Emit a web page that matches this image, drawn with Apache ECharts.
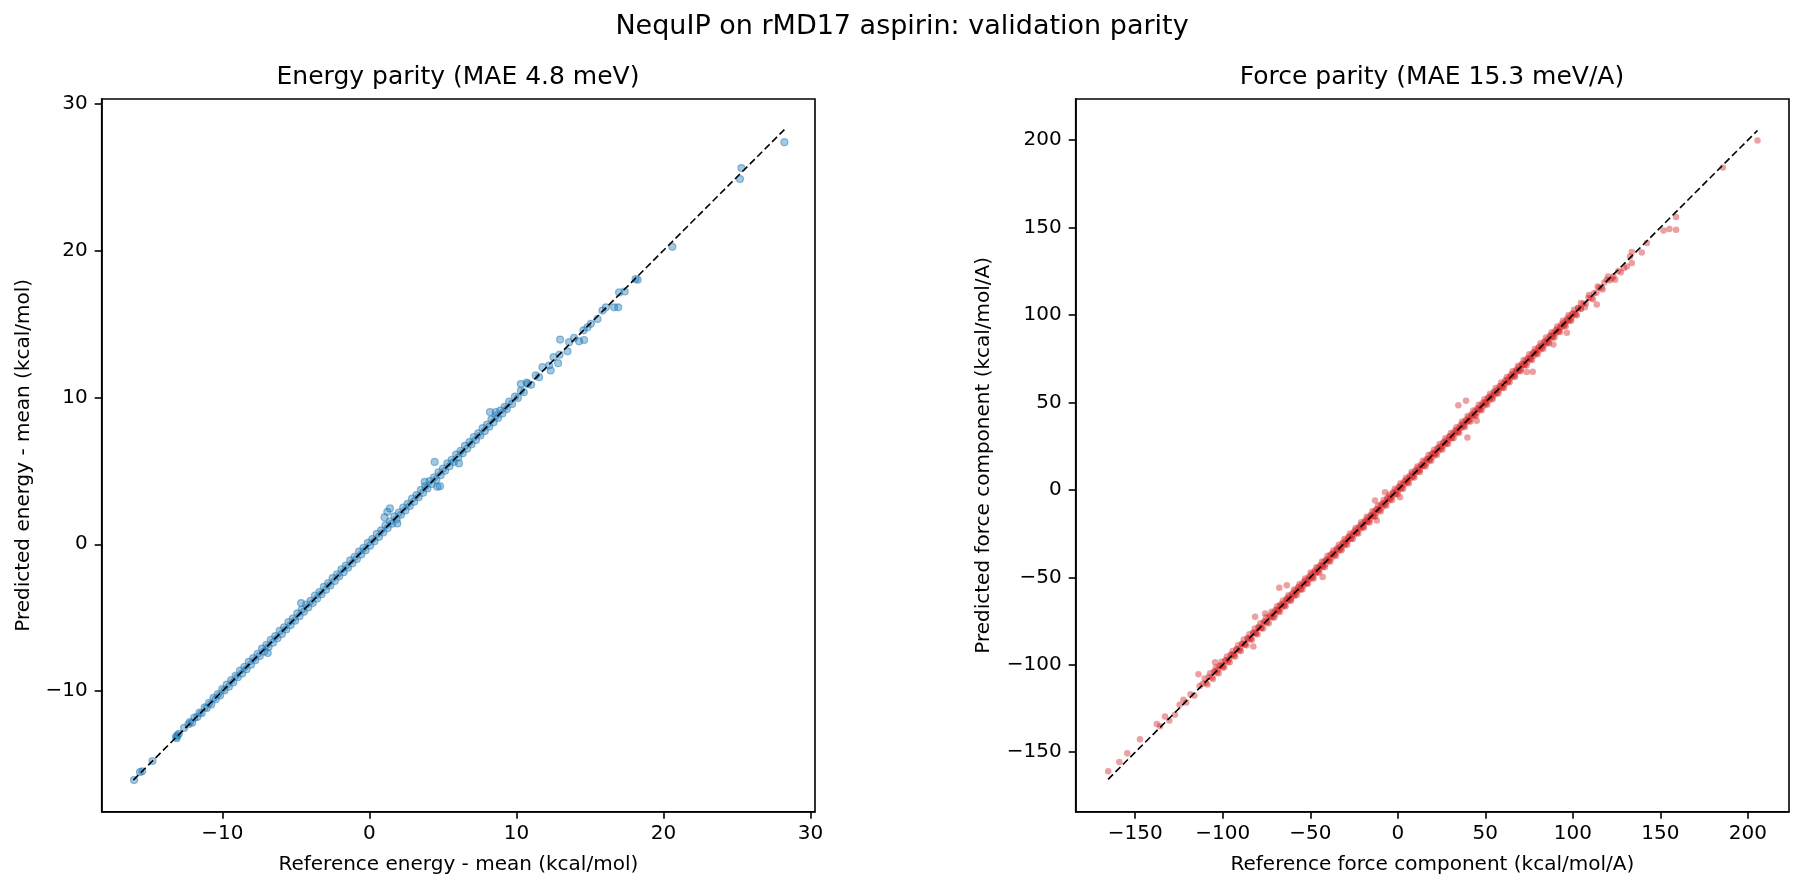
<!DOCTYPE html>
<html lang="en" style="height: 100%">
<head>
  <meta charset="utf-8">
</head>
<body style="height: 100%; margin: 0">
  <div id="container" style="height: 100%"></div>

  <script type="text/javascript" src="https://fastly.jsdelivr.net/npm/echarts@6/dist/echarts.min.js"></script>

  <script type="text/javascript">
    const suptitle = 'NequIP on rMD17 aspirin: validation parity';
    const energyTitle = 'Energy parity (MAE 4.8 meV)';
    const forceTitle = 'Force parity (MAE 15.3 meV/A)';

    const energyTicks = [-10, 0, 10, 20, 30];
    const forceTicks = [-150, -100, -50, 0, 50, 100, 150, 200];

    // y = x reference line ends
    const energyDiag = [[-16.05, -16.05], [28.22, 28.22]];
    const forceDiag = [[-165.5, -165.5], [205.5, 205.5]];

    // [reference, predicted]
    const energyPoints = [
      [-16.0,-16.05],[-15.6,-15.5],[-15.45,-15.45],[-14.75,-14.75],
      [-13.15,-13.1],[-13.05,-13.0],[-13.1,-13.2],[-12.95,-12.9],
      [-12.6,-12.5],[-12.3,-12.25],[-12.2,-12.1],[-12.05,-12.15],
      [-11.9,-11.8],[-11.7,-11.75],[-11.55,-11.45],[-11.4,-11.5],[-11.2,-11.1],[-11.05,-11.15],
      [-10.9,-10.8],[-10.75,-10.9],[-10.6,-10.45],[-10.45,-10.55],[-10.3,-10.2],[-10.15,-10.3],
      [-10.0,-9.85],[-9.85,-9.95],[-9.7,-9.55],[-9.55,-9.7],[-9.4,-9.25],[-9.25,-9.4],[-9.1,-8.95],[-8.95,-9.05],
      [-8.8,-8.6],[-8.65,-8.8],[-8.5,-8.35],[-8.35,-8.5],[-8.2,-8.0],[-8.05,-8.2],[-7.9,-7.75],[-7.75,-7.9],
      [-7.6,-7.45],[-7.45,-7.6],[-7.3,-7.1],[-7.15,-7.3],[-7.0,-6.85],[-6.91,-7.4],[-6.85,-7.0],[-6.7,-6.5],[-6.55,-6.7],
      [-6.4,-6.25],[-6.25,-6.4],[-6.1,-5.9],[-5.95,-6.1],[-5.8,-5.65],[-5.65,-5.8],[-5.5,-5.3],[-5.35,-5.5],
      [-5.2,-5.05],[-5.05,-5.2],[-4.9,-4.7],[-4.75,-4.9],[-4.64,-4.0],[-4.6,-4.45],[-4.45,-4.6],[-4.3,-4.1],[-4.15,-4.3],
      [-4.0,-3.85],[-3.85,-4.0],[-3.7,-3.5],[-3.55,-3.7],[-3.4,-3.25],[-3.25,-3.4],[-3.1,-2.9],[-2.95,-3.1],
      [-2.8,-2.65],[-2.65,-2.8],[-2.5,-2.3],[-2.35,-2.5],[-2.2,-2.05],[-2.05,-2.2],[-1.9,-1.7],[-1.75,-1.9],
      [-1.6,-1.45],[-1.45,-1.6],[-1.3,-1.1],[-1.15,-1.3],[-1.0,-0.85],[-0.85,-1.0],[-0.7,-0.5],[-0.55,-0.7],
      [-0.4,-0.25],[-0.25,-0.4],[-0.1,0.1],[0.05,-0.1],[0.2,0.35],[0.35,0.2],[0.5,0.7],[0.65,0.5],
      [0.8,0.95],[0.95,0.8],[1.03,1.83],[1.22,2.21],[1.4,2.44],[1.1,1.3],[1.25,1.1],[1.4,1.55],[1.55,1.4],
      [1.7,1.9],[1.9,1.42],[1.85,1.7],[2.0,2.15],[2.15,2.0],[2.3,2.5],[2.45,2.3],[2.6,2.75],[2.75,2.6],
      [2.9,3.1],[3.05,2.9],[3.2,3.35],[3.35,3.2],[3.5,3.7],[3.65,3.5],[3.76,4.25],[3.8,3.95],[3.95,3.8],
      [4.1,4.3],[4.25,4.1],[4.44,5.6],[4.4,4.55],[4.62,3.91],[4.8,3.95],[4.55,4.4],[4.7,4.9],[4.85,4.7],
      [5.0,5.15],[5.15,5.0],[5.3,5.5],[5.45,5.3],[5.6,5.75],[5.75,5.6],[5.9,6.1],[6.09,5.5],[6.05,5.9],
      [6.2,6.35],[6.35,6.2],[6.5,6.7],[6.65,6.5],[6.8,6.95],[6.95,6.8],[7.1,7.3],[7.25,7.1],
      [7.4,7.55],[7.55,7.4],[7.7,7.9],[7.85,7.7],[8.0,8.15],[8.15,8.0],[8.3,8.5],[8.2,9.0],[8.6,9.0],
      [8.45,8.3],[8.6,8.75],[8.75,8.6],[8.9,9.1],[9.05,8.9],[9.2,9.35],[9.35,9.2],[9.5,9.7],
      [9.7,9.55],[9.9,10.05],[10.1,9.95],[10.3,10.9],[10.7,11.0],[10.3,10.45],[10.5,10.35],[10.75,10.9],[11.0,10.85],
      [11.31,11.49],[11.54,11.37],[11.77,12.05],[12.22,12.16],[12.33,11.83],[12.52,12.73],[12.83,12.32],[12.93,12.9],
      [12.97,13.93],[13.47,13.13],[13.58,13.75],[13.92,14.04],[14.26,13.81],[14.6,13.9],[14.56,14.56],[14.83,14.76],
      [15.06,15.0],[15.51,15.33],[15.85,15.9],[16.08,16.12],[16.64,16.12],[16.92,16.12],[16.98,17.14],[17.36,17.2],
      [18.1,18.05],[18.24,18.0],[20.6,20.24],[25.2,24.85],[25.3,25.6],[28.22,27.36]
    ];

    const forcePoints = [
      [-165.4,-160.9],[-159.1,-155.6],[-154.5,-150.6],[-147.3,-142.6],[-137.7,-133.9],[-135.8,-135.2],
      [-133.0,-129.5],[-130.5,-131.8],[-127.3,-128.6],[-124.6,-122.8],[-122.5,-120.0],[-120.8,-121.5],
      [-118.4,-116.9],[-116.2,-117.5],[-113.9,-105.4],[-113.2,-112.1],[-111.5,-110.8],[-109.6,-110.2],
      [-107.9,-106.8],[-106.1,-107.3],[-104.4,-98.6],[-104.5,-103.6],[-102.8,-102.9],[-101.2,-100.3],
      [-99.6,-100.5],[-98.1,-97.4],[-96.5,-96.9],[-95.0,-94.2],[-93.4,-93.9],[-91.9,-91.1],[-90.3,-90.8],
      [-88.8,-88.1],[-87.2,-87.9],[-85.7,-84.9],[-84.2,-84.8],[-82.5,-89.6],[-82.6,-81.9],[-81.5,-72.5],
      [-81.1,-81.7],[-79.6,-78.8],[-78.1,-78.9],[-76.6,-75.9],[-75.8,-70.7],[-75.1,-75.6],[-73.6,-72.8],
      [-72.1,-72.9],[-71.0,-70.2],[-70.1,-71.3],[-69.2,-68.5],[-68.3,-69.0],[-67.7,-56.0],[-67.4,-66.1],
      [-66.5,-67.4],[-65.6,-65.0],[-64.7,-65.9],[-63.4,-54.5],[-63.8,-62.6],[-62.9,-63.5],[-62.0,-61.1],
      [-61.1,-62.3],[-60.2,-59.8],[-59.3,-60.6],[-58.4,-57.5],[-57.5,-58.1],[-56.6,-55.4],[-55.7,-56.9],
      [-54.8,-54.2],[-53.9,-54.8],[-53.0,-51.9],[-52.1,-53.3],[-51.2,-50.7],[-50.3,-51.1],[-49.4,-48.3],
      [-48.5,-49.6],[-47.6,-47.1],[-46.7,-47.5],[-45.8,-44.6],[-44.9,-45.7],[-44.0,-43.4],[-43.1,-44.0],
      [-42.9,-49.8],[-42.2,-41.3],[-41.3,-42.5],[-40.4,-39.8],[-39.5,-40.2],[-38.6,-37.4],[-37.7,-38.6],
      [-36.8,-36.1],[-35.9,-36.7],[-35.0,-33.9],[-34.1,-35.0],[-33.2,-32.6],[-32.3,-33.3],[-31.4,-30.5],
      [-30.5,-31.6],[-29.6,-28.9],[-28.7,-29.4],[-27.8,-26.7],[-26.9,-27.9],[-26.0,-25.5],[-25.1,-25.8],
      [-24.2,-23.1],[-23.3,-24.3],[-22.4,-21.8],[-21.5,-22.2],[-20.6,-19.6],[-19.7,-20.8],[-18.8,-18.2],
      [-17.9,-18.5],[-17.0,-16.0],[-16.1,-17.1],[-15.2,-14.7],[-14.3,-15.0],[-13.4,-12.3],[-13.0,-6.1],
      [-12.5,-13.4],[-12.0,-17.5],[-11.6,-11.0],[-10.7,-11.3],[-9.8,-8.8],[-8.9,-9.9],[-8.0,-7.5],
      [-7.3,-1.3],[-7.1,-7.8],[-6.2,-5.2],[-5.3,-6.2],[-4.4,-3.9],[-3.5,-4.1],[-2.6,-1.6],[-1.7,-2.7],
      [-0.8,-0.2],[0.1,-0.6],[1.0,1.9],[1.3,-4.2],[1.9,1.0],[2.8,3.3],[3.7,3.1],[4.6,5.5],[5.5,4.6],
      [6.4,6.9],[7.3,6.6],[8.2,9.1],[9.1,8.2],[10.0,10.6],[10.9,10.2],[11.8,12.7],[12.7,11.7],[13.6,14.1],
      [14.5,13.8],[15.4,16.3],[16.3,15.3],[17.2,17.8],[18.1,17.4],[19.0,19.9],[19.9,18.9],[20.8,21.3],
      [21.7,21.0],[22.6,23.5],[23.5,22.5],[24.4,25.0],[25.3,24.6],[26.2,27.1],[27.1,26.1],[28.0,28.5],
      [28.9,28.2],[29.8,30.6],[30.7,29.7],[31.6,32.2],[32.5,31.8],[33.4,34.3],[34.3,33.3],[34.6,48.4],
      [35.2,35.7],[36.1,35.4],[37.0,37.8],[37.9,36.9],[38.8,39.3],[39.0,50.9],[39.7,39.0],[39.8,30.0],
      [40.6,41.4],[41.5,40.5],[42.4,42.9],[43.3,42.6],[44.2,45.0],[45.1,39.5],[45.1,44.1],[46.0,46.5],
      [46.9,46.2],[47.8,48.6],[48.7,47.7],[49.6,50.1],[50.5,49.8],[51.4,52.2],[52.3,51.3],[53.2,53.7],
      [54.1,53.4],[55.0,55.8],[55.9,54.9],[56.8,57.3],[57.7,57.0],[58.6,59.4],[59.5,58.5],[60.4,60.9],
      [61.3,60.6],[62.2,63.0],[63.1,62.1],[64.0,64.5],[64.9,64.2],[65.8,66.6],[66.7,65.7],[67.6,68.1],
      [68.5,67.8],[69.4,70.2],[70.3,69.3],[71.2,71.7],[72.1,71.4],[73.0,73.8],[73.7,67.4],[73.9,72.9],
      [74.8,75.3],[75.7,75.0],[76.6,77.4],[77.1,67.6],[77.5,76.5],[78.4,78.9],[79.3,78.6],[80.2,81.0],
      [81.1,80.1],[82.0,82.5],[82.9,82.2],[83.8,84.6],[84.7,83.7],[85.6,86.1],[86.5,85.8],[87.4,88.2],
      [88.9,83.2],[88.3,87.3],[89.2,89.7],[90.1,89.4],[91.0,91.8],[91.9,90.9],[92.8,93.3],[93.7,93.0],
      [94.6,95.4],[95.5,94.5],[96.6,89.9],[96.4,96.9],[97.3,96.6],[98.2,99.0],[99.1,98.1],[100.0,100.5],
      [101.5,100.8],[103.0,103.9],[104.5,103.7],[106.0,106.5],[107.5,106.6],[109.0,109.8],[110.5,109.6],
      [112.0,112.4],[113.7,106.0],[113.5,112.7],[115.0,115.6],[116.5,115.7],[118.0,118.6],[119.4,120.2],
      [121.0,119.9],[123.2,122.1],[124.2,120.2],[126.0,125.1],[127.4,124.4],[129.3,126.9],[130.9,127.8],
      [132.7,133.5],[133.7,136.0],[133.7,129.7],[139.4,135.8],[142.3,141.1],[151.8,148.3],[155.2,149.1],
      [159.0,148.7],[159.0,156.1],[185.7,184.4],[205.5,199.8],
      // edges of the dense band
      [-110.3,-107.8],[-108.7,-111.2],[-107.2,-104.9],[-105.6,-108.1],[-103.9,-101.5],[-102.3,-104.8],
      [-100.7,-98.2],[-99.2,-101.6],[-97.6,-95.3],[-96.0,-98.5],[-94.4,-92.1],[-92.8,-95.2],[-91.2,-88.9],
      [-89.6,-92.1],[-88.0,-85.6],[-86.4,-88.8],[-84.8,-82.5],[-83.3,-85.7],[-81.7,-79.3],[-80.1,-82.6],
      [-78.5,-76.2],[-76.9,-79.3],[-75.3,-73.0],[-73.7,-76.2],[-72.1,-69.7],[-70.5,-72.9],[-68.9,-66.6],
      [-67.3,-69.8],[-65.7,-63.4],[-64.1,-66.5],[-62.5,-60.2],[-60.9,-63.4],[-59.3,-56.9],[-57.7,-60.1],
      [-56.1,-53.8],[-54.5,-57.0],[-52.9,-50.6],[-51.3,-53.7],[-49.7,-47.3],[-48.1,-50.6],[-46.5,-44.2],
      [-44.9,-47.3],[-43.3,-41.0],[-41.7,-44.2],[-40.1,-37.7],[-38.5,-40.9],[-36.9,-34.6],[-35.3,-37.8],
      [-33.7,-31.4],[-32.1,-34.5],[-30.5,-28.1],[-28.9,-31.4],[-27.3,-25.0],[-25.7,-28.1],[-24.1,-21.8],
      [-22.5,-25.0],[-20.9,-18.5],[-19.3,-21.7],[-17.7,-15.4],[-16.1,-18.6],[-14.5,-12.2],[-12.9,-15.3],
      [-11.3,-8.9],[-9.7,-12.2],[-8.1,-5.8],[-6.5,-8.9],[-4.9,-2.6],[-3.3,-5.8],[-1.7,0.7],[-0.1,-2.5],
      [1.5,3.8],[3.1,0.7],[4.7,7.0],[6.3,3.8],[7.9,10.3],[9.5,7.1],[11.1,13.4],[12.7,10.3],[14.3,16.6],
      [15.9,13.5],[17.5,19.9],[19.1,16.7],[20.7,23.0],[22.3,19.9],[23.9,26.2],[25.5,23.1],[27.1,29.5],
      [28.7,26.3],[30.3,32.6],[31.9,29.5],[33.5,35.8],[35.1,32.7],[36.7,39.1],[38.3,35.9],[39.9,42.2],
      [41.5,39.1],[43.1,45.4],[44.7,42.3],[46.3,48.7],[47.9,45.5],[49.5,51.8],[51.1,48.7],[52.7,55.0],
      [54.3,51.9],[55.9,58.3],[57.5,55.1],[59.1,61.4],[60.7,58.3],[62.3,64.6],[63.9,61.5],[65.5,67.9],
      [67.1,64.7],[68.7,71.0],[70.3,67.9],[71.9,74.2],[73.5,71.1],[75.1,77.5],[76.7,74.3],[78.3,80.6],
      [79.9,77.5],[81.5,83.8],[83.1,80.7],[84.7,87.1],[86.3,83.9],[87.9,90.2],[89.5,87.1],[91.1,93.4],
      [92.7,90.3],[94.3,96.7],[95.9,93.5],[97.5,99.8],[99.1,96.7],[100.7,103.0],[102.3,99.9],[104.6,106.9],
      [106.9,104.5],[109.2,111.4],[111.5,109.0],[114.2,116.3],[117.0,114.6],[120.1,122.0],[122.5,120.9],
      // core of the dense band
      [-105.0,-104.1],[-103.4,-104.6],[-101.8,-100.7],[-100.2,-101.4],[-98.6,-97.5],[-97.0,-98.2],
      [-95.4,-94.3],[-93.8,-95.0],[-92.2,-91.1],[-90.6,-91.8],[-89.0,-87.9],[-87.4,-88.6],[-85.8,-84.7],
      [-84.2,-85.4],[-82.6,-81.5],[-81.0,-82.2],[-79.4,-78.3],[-77.8,-79.0],[-76.2,-75.1],[-74.6,-75.8],
      [-73.0,-71.9],[-71.4,-72.6],[-69.8,-68.7],[-68.2,-69.4],[-66.6,-65.5],[-65.0,-66.2],[-63.4,-62.3],
      [-61.8,-63.0],[-60.2,-59.1],[-58.6,-59.8],[-57.0,-55.9],[-55.4,-56.6],[-53.8,-52.7],[-52.2,-53.4],
      [-50.6,-49.5],[-49.0,-50.2],[-47.4,-46.3],[-45.8,-47.0],[-44.2,-43.1],[-42.6,-43.8],[-41.0,-39.9],
      [-39.4,-40.6],[-37.8,-36.7],[-36.2,-37.4],[-34.6,-33.5],[-33.0,-34.2],[-31.4,-30.3],[-29.8,-31.0],
      [-28.2,-27.1],[-26.6,-27.8],[-25.0,-23.9],[-23.4,-24.6],[-21.8,-20.7],[-20.2,-21.4],[-18.6,-17.5],
      [-17.0,-18.2],[-15.4,-14.3],[-13.8,-15.0],[-12.2,-11.1],[-10.6,-11.8],[-9.0,-7.9],[-7.4,-8.6],
      [-5.8,-4.7],[-4.2,-5.4],[-2.6,-1.5],[-1.0,-2.2],[0.6,1.7],[2.2,1.0],[3.8,4.9],[5.4,4.2],[7.0,8.1],
      [8.6,7.4],[10.2,11.3],[11.8,10.6],[13.4,14.5],[15.0,13.8],[16.6,17.7],[18.2,17.0],[19.8,20.9],
      [21.4,20.2],[23.0,24.1],[24.6,23.4],[26.2,27.3],[27.8,26.6],[29.4,30.5],[31.0,29.8],[32.6,33.7],
      [34.2,33.0],[35.8,36.9],[37.4,36.2],[39.0,40.1],[40.6,39.4],[42.2,43.3],[43.8,42.6],[45.4,46.5],
      [47.0,45.8],[48.6,49.7],[50.2,49.0],[51.8,52.9],[53.4,52.2],[55.0,56.1],[56.6,55.4],[58.2,59.3],
      [59.8,58.6],[61.4,62.5],[63.0,61.8],[64.6,65.7],[66.2,65.0],[67.8,68.9],[69.4,68.2],[71.0,72.1],
      [72.6,71.4],[74.2,75.3],[75.8,74.6],[77.4,78.5],[79.0,77.8],[80.6,81.7],[82.2,81.0],[83.8,84.9],
      [85.4,84.2],[87.0,88.1],[88.6,87.4],[90.2,91.3],[91.8,90.6],[93.4,94.5],[95.0,93.8],[96.6,97.7],
      [98.2,97.0],[99.8,100.9],[101.4,100.2],[103.0,104.1],[104.6,103.4]
    ];

    const FONT = 'DejaVu Sans';
    const minus = v => (v < 0 ? '\u2212' + Math.abs(v) : String(v));

    function makeAxis(dim, gridIndex, min, max, ticks, name, nameGap) {
      return {
        type: 'value',
        gridIndex: gridIndex,
        min: min,
        max: max,
        name: name,
        nameLocation: 'middle',
        nameGap: nameGap,
        nameTextStyle: { fontFamily: FONT, fontSize: 20, color: '#000' },
        splitLine: { show: false },
        axisLine: { show: true, onZero: false, lineStyle: { color: '#000', width: 1.6 } },
        axisTick: {
          show: true, inside: false, length: 7,
          customValues: ticks,
          lineStyle: { color: '#000', width: 1.6 }
        },
        axisLabel: {
          show: true, margin: dim === 'x' ? 12 : 14,
          customValues: ticks,
          formatter: minus,
          fontFamily: FONT, fontSize: 20, color: '#000'
        }
      };
    }

    var dom = document.getElementById('container');
    var myChart = echarts.init(dom, null, { renderer: 'canvas' });

    var option = {
      animation: false,
      backgroundColor: '#fff',
      title: [
        { text: suptitle, left: 'center', top: 13, padding: 0,
          textStyle: { fontFamily: FONT, fontSize: 27, fontWeight: 'normal', color: '#000' } },
        { text: energyTitle, left: 458, top: 65, padding: 0, textAlign: 'center',
          textStyle: { fontFamily: FONT, fontSize: 25, fontWeight: 'normal', color: '#000' } },
        { text: forceTitle, left: 1432, top: 65, padding: 0, textAlign: 'center',
          textStyle: { fontFamily: FONT, fontSize: 25, fontWeight: 'normal', color: '#000' } }
      ],
      grid: [
        { left: 101.7, top: 99, width: 713.3, height: 712.7, show: true, borderColor: '#000', borderWidth: 1.6 },
        { left: 1075.7, top: 99, width: 713.3, height: 712.7, show: true, borderColor: '#000', borderWidth: 1.6 }
      ],
      xAxis: [
        makeAxis('x', 0, -18.2, 30.3, energyTicks, 'Reference energy - mean (kcal/mol)', 43),
        makeAxis('x', 1, -184, 223.5, forceTicks, 'Reference force component (kcal/mol/A)', 43)
      ],
      yAxis: [
        makeAxis('y', 0, -18.2, 30.3, energyTicks, 'Predicted energy - mean (kcal/mol)', 68),
        makeAxis('y', 1, -184, 223.5, forceTicks, 'Predicted force component (kcal/mol/A)', 82)
      ],
      series: [
        {
          type: 'scatter', xAxisIndex: 0, yAxisIndex: 0,
          symbolSize: 7,
          itemStyle: { color: 'rgba(31,119,180,0.5)', borderColor: 'rgba(31,119,180,0.6)', borderWidth: 1.2 },
          data: energyPoints
        },
        {
          type: 'line', xAxisIndex: 0, yAxisIndex: 0, z: 5,
          symbol: 'none',
          lineStyle: { color: '#000', width: 1.6, type: [7, 3.5] },
          data: energyDiag
        },
        {
          type: 'scatter', xAxisIndex: 1, yAxisIndex: 1,
          symbolSize: 6.5,
          itemStyle: { color: 'rgba(214,39,40,0.55)' },
          data: forcePoints
        },
        {
          type: 'line', xAxisIndex: 1, yAxisIndex: 1, z: 5,
          symbol: 'none',
          lineStyle: { color: '#000', width: 1.6, type: [7, 3.5] },
          data: forceDiag
        }
      ]
    };

    myChart.setOption(option);
    window.addEventListener('resize', myChart.resize);
  </script>
</body>
</html>
